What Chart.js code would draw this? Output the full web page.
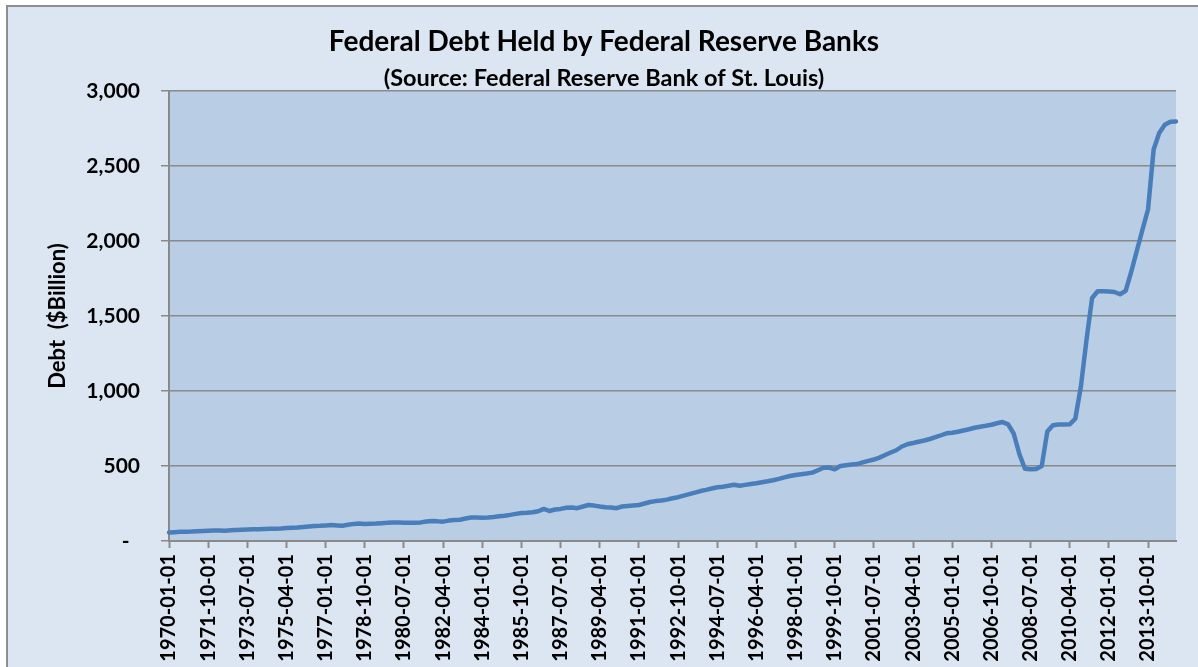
<!DOCTYPE html>
<html>
<head>
<meta charset="utf-8">
<title>Federal Debt Held by Federal Reserve Banks</title>
<script src="https://cdn.jsdelivr.net/npm/chart.js@4.4.1/dist/chart.umd.min.js"></script>
<style>
  html, body { margin: 0; padding: 0; background: #fff; }
  #wrap { width: 1198px; height: 667px; }
</style>
</head>
<body>
<div id="wrap"><canvas id="chart"></canvas></div>
<script>
// quarterly observations, 1970-01-01 .. 2015-01-01 ($ billion)
const startYear = 1970;
const quarterMonths = ['01', '04', '07', '10'];

const debt = [
  57, 59, 61, 62,         // 1970
  63, 65, 67, 69,         // 1971
  70, 70, 69, 71,         // 1972
  73, 75, 77, 78,         // 1973
  79, 80, 81, 82,         // 1974
  83, 86, 88, 90,         // 1975
  94, 97, 100, 101,       // 1976
  104, 106, 104, 102,     // 1977
  108, 114, 116, 114,     // 1978
  115, 116, 119, 121,     // 1979
  124, 123, 122, 121,     // 1980
  122, 124, 130, 134,     // 1981
  131, 129, 136, 140,     // 1982
  142, 150, 157, 157,     // 1983
  155, 156, 160, 165,     // 1984
  168, 174, 181, 187,     // 1985
  189, 192, 198, 214,     // 1986
  200, 210, 214, 222,     // 1987
  224, 219, 230, 240,     // 1988
  236, 230, 225, 224,     // 1989
  219, 230, 234, 237,     // 1990
  240, 250, 260, 266,     // 1991
  270, 276, 285, 292,     // 1992
  302, 312, 322, 333,     // 1993
  341, 350, 358, 362,     // 1994
  368, 375, 368, 374,     // 1995
  380, 385, 392, 398,     // 1996
  405, 414, 424, 433,     // 1997
  440, 445, 450, 456,     // 1998
  472, 488, 490, 478,     // 1999
  500, 505, 510, 513,     // 2000
  524, 534, 543, 556,     // 2001
  573, 590, 605, 630,     // 2002
  645, 653, 662, 670,     // 2003
  680, 692, 705, 718,     // 2004
  722, 728, 737, 745,     // 2005
  755, 762, 768, 775,     // 2006
  785, 793, 778, 715,     // 2007
  580, 482, 478, 480,     // 2008
  500, 730, 772, 777,     // 2009
  777, 778, 815, 1030,    // 2010
  1340, 1620, 1665, 1665, // 2011
  1663, 1660, 1645, 1668, // 2012
  1795, 1935, 2075, 2210, // 2013
  2610, 2720, 2775, 2795, // 2014
  2797                    // 2015
];

const dates = [];
for (let i = 0; i < debt.length; i++) {
  const y = startYear + Math.floor(i / 4);
  dates.push(y + '-' + quarterMonths[i % 4] + '-01');
}

const labelEvery = 7;   // a date label every 7 quarters
const yTicks = [0, 500, 1000, 1500, 2000, 2500, 3000];

const gray = '#8a8a8a';
const font = 'Lato, "Open Sans", sans-serif';

// chart frame + plot area background, like the spreadsheet chart
const frame = {
  id: 'frame',
  beforeDraw(chart) {
    const { ctx, chartArea: a, width, height } = chart;
    ctx.save();
    ctx.fillStyle = '#ffffff';
    ctx.fillRect(0, 0, width, height);
    ctx.fillStyle = '#dce6f2';
    ctx.fillRect(7, 6, width, height);
    ctx.strokeStyle = '#8e8e8e';
    ctx.lineWidth = 2;
    ctx.strokeRect(7, 6, width + 20, height + 20);
    ctx.fillStyle = '#b9cde5';
    ctx.fillRect(a.left, a.top, a.right - a.left, a.bottom - a.top);
    ctx.restore();
  }
};

new Chart(document.getElementById('chart'), {
  type: 'line',
  data: {
    labels: dates,
    datasets: [{
      label: 'Debt',
      data: debt,
      borderColor: '#4a7ebb',
      borderWidth: 4.5,
      pointRadius: 0,
      tension: 0,
      borderJoinStyle: 'round',
      borderCapStyle: 'round',
      fill: false
    }]
  },
  options: {
    responsive: true,
    maintainAspectRatio: false,
    animation: false,
    layout: { padding: { top: 0, right: 22, bottom: 0, left: 32 } },
    plugins: {
      legend: { display: false },
      tooltip: { enabled: false },
      title: {
        display: true,
        text: 'Federal Debt Held by Federal Reserve Banks',
        color: '#000',
        font: { family: font, size: 28, weight: 'bold' },
        padding: { top: 25.2, bottom: 0 }
      },
      subtitle: {
        display: true,
        text: '(Source: Federal Reserve Bank of St. Louis)',
        color: '#000',
        font: { family: font, size: 23.5, weight: 'bold', lineHeight: 1 },
        padding: { top: 7.45, bottom: 1.25 }
      }
    },
    scales: {
      x: {
        type: 'category',
        grid: { drawOnChartArea: false, drawTicks: true, tickLength: 7, tickColor: gray, tickWidth: 2 },
        border: { color: gray, width: 2 },
        ticks: {
          autoSkip: false,
          minRotation: 90,
          maxRotation: 90,
          padding: 6,
          color: '#000',
          font: { family: font, size: 20, weight: 'bold' }
        },
        afterBuildTicks: s => { s.ticks = s.ticks.filter(t => t.value % labelEvery === 0); },
        afterFit: s => { s.height = 126; }
      },
      y: {
        min: yTicks[0],
        max: yTicks[yTicks.length - 1],
        afterBuildTicks: s => { s.ticks = yTicks.map(v => ({ value: v })); },
        grid: { color: gray, lineWidth: 1.5, tickLength: 8, tickColor: gray },
        border: { color: gray, width: 2 },
        ticks: {
          padding: 21,
          color: '#000',
          font: { family: font, size: 21, weight: 'bold' },
          callback: v => v === 0 ? '-\u2002' : v.toLocaleString('en-US')
        },
        title: {
          display: true,
          text: 'Debt  ($Billion)',
          color: '#000',
          font: { family: font, size: 22, weight: 'bold' },
          padding: { top: 12.8, bottom: 0 }
        },
        afterFit: s => { s.width = 137; }
      }
    }
  },
  plugins: [frame]
});
</script>
</body>
</html>
